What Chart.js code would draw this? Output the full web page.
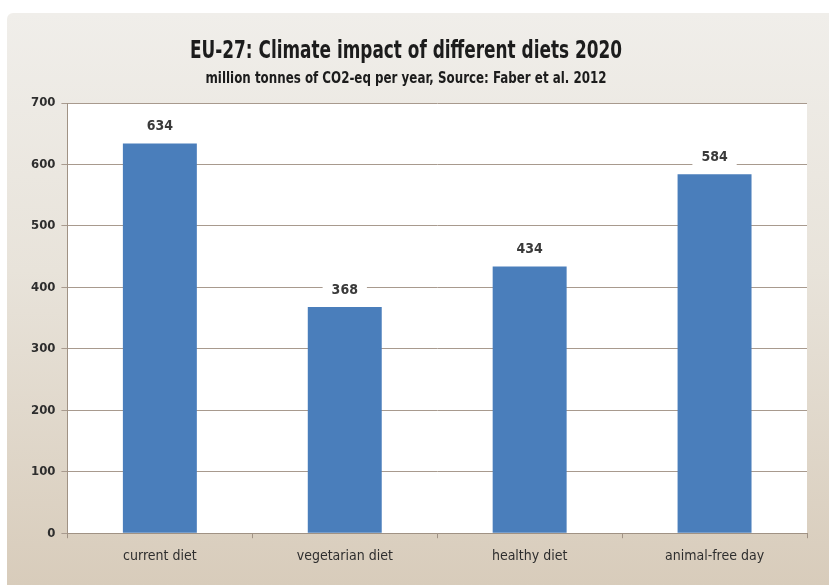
<!DOCTYPE html>
<html>
<head>
<meta charset="utf-8">
<script src="https://cdn.jsdelivr.net/npm/chart.js@4"></script>
<style>
  html, body { margin: 0; padding: 0; background: #ffffff; }
  #wrap { width: 829px; height: 585px; position: relative; }
</style>
</head>
<body>
<div id="wrap"><canvas id="c" width="829" height="585"></canvas></div>
<script>
const categories = ['current diet', 'vegetarian diet', 'healthy diet', 'animal-free day'];
const emissions = [634, 368, 434, 584];
const yTicks = [0, 100, 200, 300, 400, 500, 600, 700];
const titleText = 'EU-27: Climate impact of different diets 2020';
const subtitleText = 'million tonnes of CO2-eq per year, Source: Faber et al. 2012';

const FONT = "'DejaVu Sans Condensed', 'Liberation Sans Narrow', sans-serif";

// Beige panel behind everything, white plot area
const panelBg = {
  id: 'panelBg',
  beforeDraw(chart) {
    const { ctx, chartArea } = chart;
    const x = 7, y = 13, w = chart.width - x, h = chart.height - y;
    ctx.save();
    const g = ctx.createLinearGradient(0, y, 0, y + h);
    g.addColorStop(0, '#f0eeea');
    g.addColorStop(0.45, '#e8e3da');
    g.addColorStop(1, '#d8ccbb');
    ctx.fillStyle = g;
    ctx.beginPath();
    ctx.roundRect(x, y, w + 10, h + 10, 6);
    ctx.fill();
    ctx.fillStyle = '#ffffff';
    ctx.fillRect(chartArea.left, chartArea.top, chartArea.right - chartArea.left, chartArea.bottom - chartArea.top);
    ctx.restore();
  }
};

// Condensed heading: title and source line, squeezed horizontally
const heading = {
  id: 'heading',
  afterDraw(chart) {
    const { ctx } = chart;
    const cx = 406;
    const lines = [
      { text: titleText, size: 24, y: 58, width: 432 },
      { text: subtitleText, size: 15, y: 83, width: 401 }
    ];
    ctx.save();
    ctx.fillStyle = '#1c1c1c';
    ctx.textBaseline = 'alphabetic';
    ctx.textAlign = 'center';
    lines.forEach(l => {
      ctx.font = 'bold ' + l.size + 'px ' + FONT;
      const tw = ctx.measureText(l.text).width;
      const sx = Math.min(1, l.width / tw);
      ctx.save();
      ctx.translate(cx, l.y);
      ctx.scale(sx, 1);
      ctx.fillText(l.text, 0, 0);
      ctx.restore();
    });
    ctx.restore();
  }
};

// Value labels on a white box above each bar
const valueLabels = {
  id: 'valueLabels',
  afterDatasetsDraw(chart) {
    const { ctx } = chart;
    const meta = chart.getDatasetMeta(0);
    ctx.save();
    ctx.font = "bold 14px " + FONT;
    ctx.textAlign = 'center';
    ctx.textBaseline = 'middle';
    meta.data.forEach((bar, i) => {
      const txt = String(emissions[i]);
      const tw = ctx.measureText(txt).width;
      const cy = bar.y - 17;
      ctx.fillStyle = '#ffffff';
      ctx.fillRect(bar.x - tw / 2 - 9, cy - 8, tw + 18, 16);
      ctx.fillStyle = '#3a3a3a';
      ctx.fillText(txt, bar.x, cy);
    });
    ctx.restore();
  }
};

new Chart(document.getElementById('c'), {
  type: 'bar',
  data: {
    labels: categories,
    datasets: [{
      data: emissions,
      backgroundColor: '#4a7ebb',
      borderWidth: 0,
      barPercentage: 0.4,
      categoryPercentage: 1.0
    }]
  },
  options: {
    responsive: false,
    animation: false,
    layout: { padding: { left: 25, right: 22, top: 103, bottom: 10 } },
    plugins: {
      legend: { display: false },
      tooltip: { enabled: false },
      title: { display: false },
      subtitle: { display: false }
    },
    scales: {
      x: {
        grid: { display: true, drawOnChartArea: false, drawTicks: true, tickLength: 5, color: '#a09284', offset: true },
        border: { display: true, color: '#a09284', width: 1 },
        ticks: { color: '#2e2e2e', font: { family: FONT, size: 14 }, padding: 10 }
      },
      y: {
        min: 0,
        max: 700,
        afterBuildTicks(axis) { axis.ticks = yTicks.map(v => ({ value: v })); },
        grid: { color: '#a89a8e', lineWidth: 1, tickLength: 6, drawTicks: true },
        border: { display: true, color: '#a09284', width: 1 },
        ticks: { color: '#2e2e2e', font: { family: FONT, size: 13, weight: 'bold' }, padding: 6 }
      }
    }
  },
  plugins: [panelBg, heading, valueLabels]
});
</script>
</body>
</html>
